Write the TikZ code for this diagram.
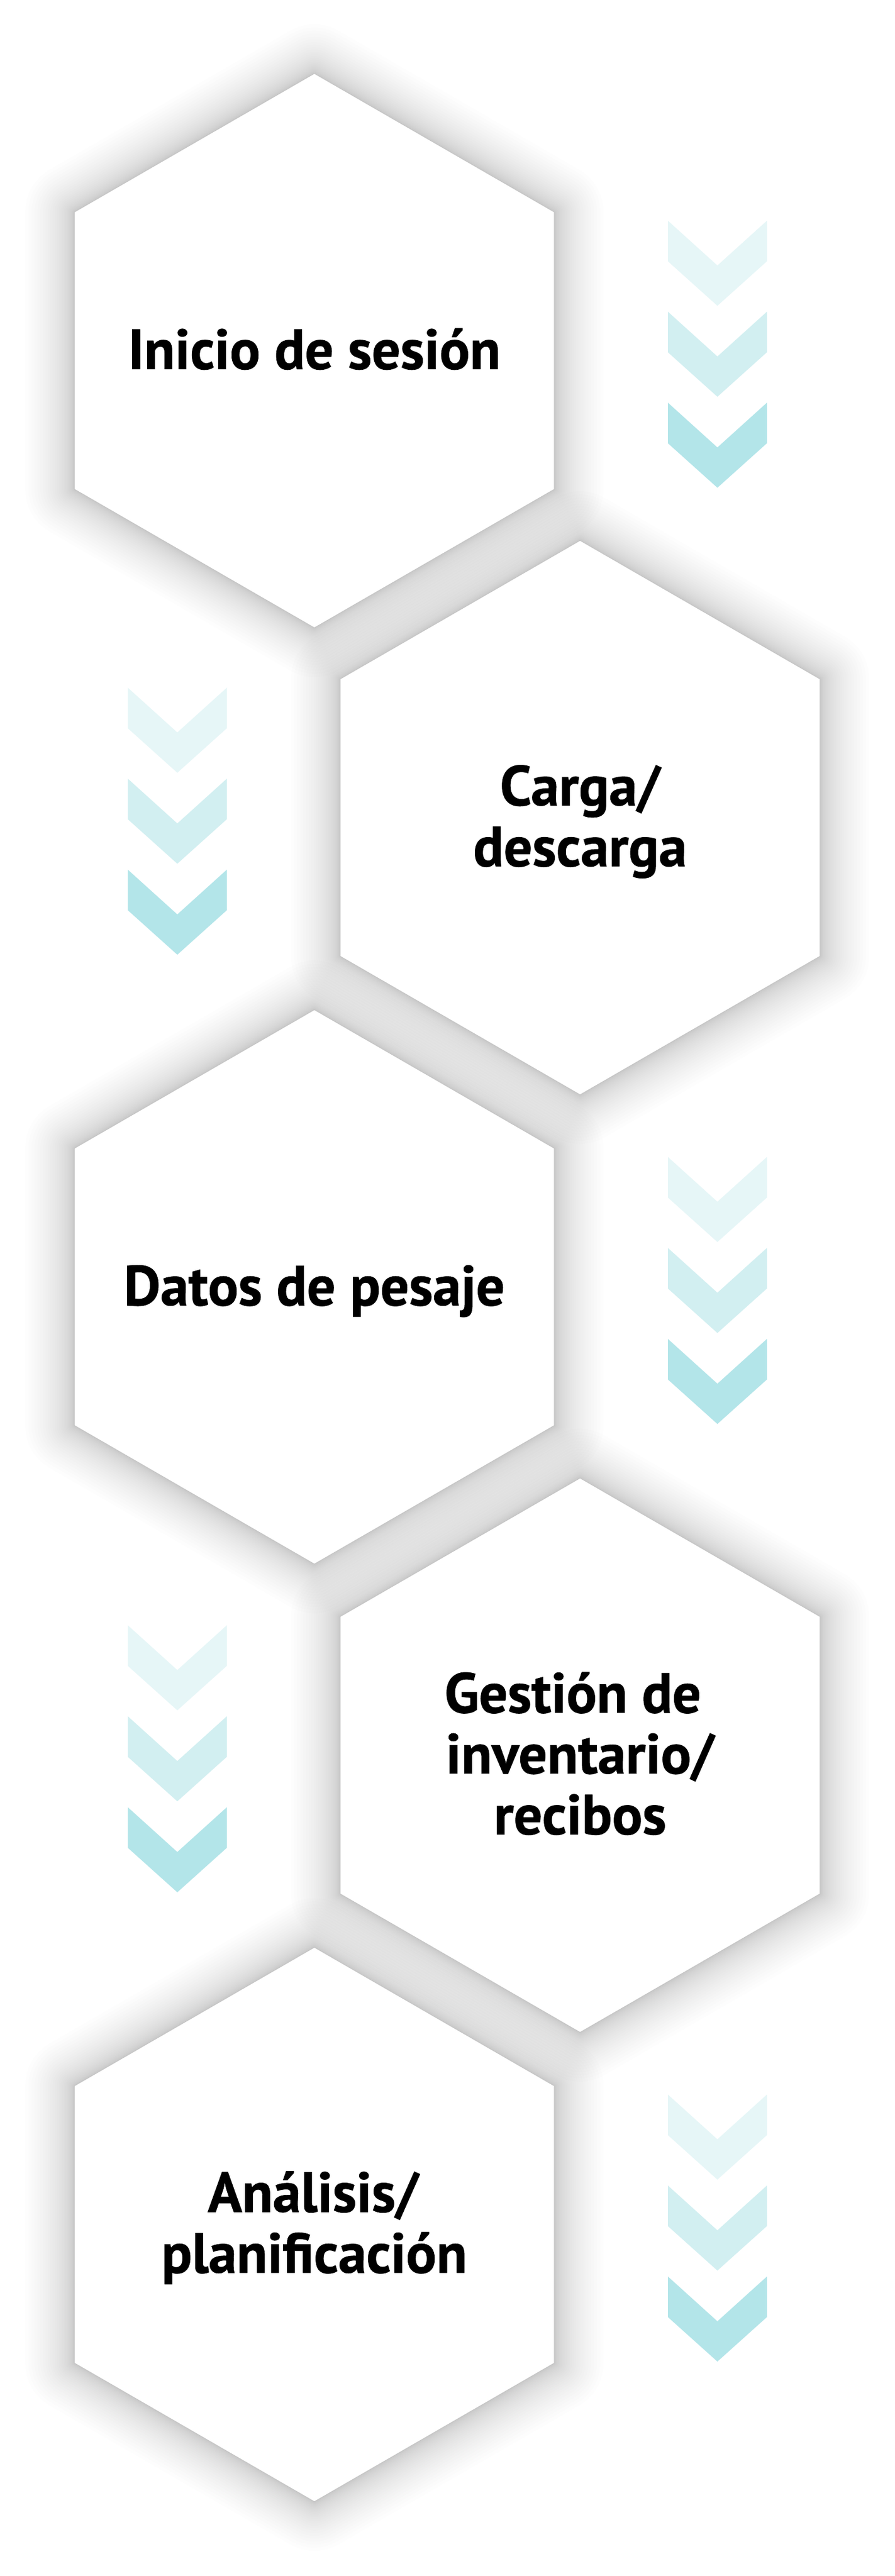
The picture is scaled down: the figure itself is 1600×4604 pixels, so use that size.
\documentclass[tikz,border=0pt]{standalone}
\usepackage{fontspec}
\setmainfont{PT Sans}
\newfontfamily\labelfont{PT Sans}[BoldFeatures={FakeBold=0.8}]
\definecolor{chevA}{HTML}{E6F6F7}
\definecolor{chevB}{HTML}{D2EFF1}
\definecolor{chevC}{HTML}{B3E5E9}
\tikzset{
  hexshadow/.style={draw=black, draw opacity=0.0075, line join=round},
  hexface/.style={fill=white},
  steplabel/.style={font=\labelfont\bfseries\fontsize{101}{108.7}\selectfont, anchor=base, inner sep=0pt, text=black},
}
\newcommand\myhexpath{(90:494.6) -- (150:494.6) -- (210:494.6) -- (270:494.6) -- (330:494.6) -- (30:494.6) -- cycle}
\newcommand\mychevs[2]{%
  \foreach \j/\col in {0/chevA,1/chevB,2/chevC}{
    \fill[\col, shift={(#1,#2+\j*162.6)}] (0,0) -- (88.5,80) -- (177,0) -- (177,72.5) -- (88.5,152) -- (0,72.5) -- cycle;
  }%
}
\begin{document}
\begin{tikzpicture}[x=1pt,y=-1pt]
\fill[white] (0,0) rectangle (1600,4604);
\useasboundingbox (0,0) rectangle (1600,4604);
\coordinate (h1) at (562,626.7);
\coordinate (h2) at (1037,1461.3);
\coordinate (h3) at (562,2300);
\coordinate (h4) at (1037,3137);
\coordinate (h5) at (562,3975.7);
% shadows: soft blur, dense near the edge, long faint tail
\foreach \c in {h1,h2,h3,h4,h5}{
  \foreach \k in {1,...,30}{
    \draw[hexshadow, line width={2*88*(\k/30)*(\k/30)+1}, shift={(\c)}] \myhexpath;
  }
}
% faces
\foreach \c in {h1,h2,h3,h4,h5}{
  \fill[hexface, shift={(\c)}] \myhexpath;
}
% chevrons
\mychevs{1194}{394.5}
\mychevs{228.5}{1229.1}
\mychevs{1194}{2067.8}
\mychevs{228.5}{2904.8}
\mychevs{1194}{3743.5}
% labels
\node[steplabel] (t1) at (562,659.5) {Inicio de sesión};
\node[steplabel] (t2a) at (1037,1439.5) {Carga/};
\node[steplabel] (t2b) at (1037,1548.2) {descarga};
\node[steplabel] (t3) at (562,2333) {Datos de pesaje};
\node[steplabel] (t4a) at (1024,3061) {Gestión de};
\node[steplabel] (t4b) at (1037,3169.7) {inventario/};
\node[steplabel] (t4c) at (1037,3278.4) {recibos};
\node[steplabel] (t5a) at (560,3953.3) {Análisis/};
\node[steplabel] (t5b) at (562,4062) {planificación};
\end{tikzpicture}
\end{document}
